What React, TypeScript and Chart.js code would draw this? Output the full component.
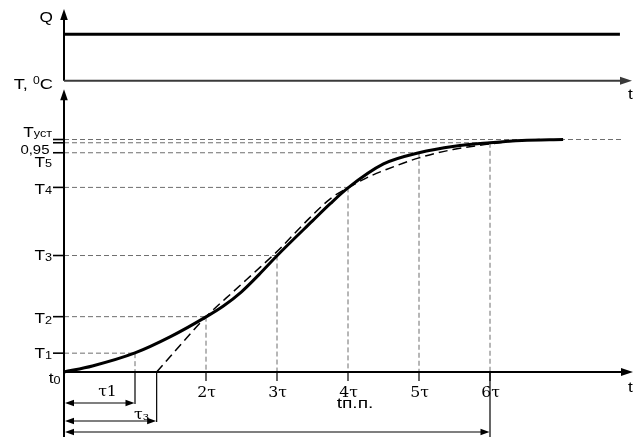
import React, { useEffect, useRef } from 'react';
import { Chart, registerables } from 'chart.js';

Chart.register(...registerables);

// ---------------- data ----------------
// time in units of τ, temperature normalised so that Tуст = 1
const solidT = [0, 0.4, 1.0, 1.5, 2.0, 2.25, 2.5, 2.75, 3.0, 3.5, 3.75, 4.0, 4.5, 5.0, 5.5, 6.0, 6.45, 7.03];
const solidV = [0, 0.026, 0.082, 0.152, 0.237, 0.285, 0.345, 0.42, 0.5, 0.65, 0.724, 0.792, 0.895, 0.943, 0.971, 0.986, 0.996, 1.0];

const approxT = [1.305, 2.0, 2.4, 2.76, 3.04, 3.37, 3.75, 4.0, 4.31, 4.54, 5.0, 5.48, 6.0, 6.42, 6.7];
const approxV = [0, 0.237, 0.35, 0.45, 0.53, 0.635, 0.745, 0.792, 0.842, 0.871, 0.921, 0.957, 0.981, 0.996, 1.0];

const qT = [0, 7.83];
const qV = [1, 1];

const levelMain = ['T', 'T', 'T', 'T', 'T', '0,95', 'T'];
const levelSub = ['1', '2', '3', '4', '5', '', 'уст'];
const levelValues = [0.081, 0.238, 0.501, 0.794, 0.943, 0.986, 1.0];
const levelReach = [1, 2, 3, 4, 5, 6, 7.87];

const tickTaus = [2, 3, 4, 5, 6];
const tickLabels = ['2τ', '3τ', '4τ', '5τ', '6τ'];

const spanEnds = [1, 1.305, 6];
const spanMain = ['τ1', 'τ', 'tп.п.'];
const spanSub = ['', 'з', ''];

// ---------------- layout (pixels) ----------------
const AREA_TOP = 10;
const AREA_BOTTOM = 437;
const T_AXIS_PX = 372;
const T_UNIT_PX = 232.5;
const Q_AXIS_PX = 80.7;
const Q_UNIT_PX = 46.4;

const levelLabelDy = [5, 6.5, 4.5, 6.3, 14, 11, -2.6];
const levelLabelRight = [52, 52, 52, 52, 52, 49.5, 52];
const levelLabelSize = [15, 15, 15, 15, 15, 13, 15];
const spanDy = [31, 49, 60];
const spanLabelX = [0.613, 0.985, 3.84];
const spanLabelBase = [396, 418.5, 408];

const SANS = '"Liberation Sans", Arial, sans-serif';
const SERIF = '"DejaVu Serif", serif';
const SX = 1.15;

type Part = { s: string; size: number; family: string; dy?: number };

function drawParts(ctx: CanvasRenderingContext2D, parts: Part[], x: number, y: number, align: 'left' | 'right' | 'center', sx = SX) {
  const widths = parts.map((p) => {
    ctx.font = `${p.size}px ${p.family}`;
    return ctx.measureText(p.s).width;
  });
  const total = widths.reduce((a, b) => a + b, 0) * sx;
  let cx = align === 'left' ? x : align === 'right' ? x - total : x - total / 2;
  ctx.textAlign = 'left';
  ctx.textBaseline = 'alphabetic';
  parts.forEach((p, i) => {
    ctx.save();
    ctx.translate(cx, y + (p.dy || 0));
    ctx.scale(sx, 1);
    ctx.font = `${p.size}px ${p.family}`;
    ctx.fillText(p.s, 0, 0);
    ctx.restore();
    cx += widths[i] * sx;
  });
}

function arrowHead(ctx: CanvasRenderingContext2D, tx: number, ty: number, dx: number, dy: number, len: number, hw: number) {
  const bx = tx - dx * len;
  const by = ty - dy * len;
  const px = -dy;
  const py = dx;
  ctx.beginPath();
  ctx.moveTo(tx, ty);
  ctx.lineTo(bx + px * hw, by + py * hw);
  ctx.lineTo(bx - px * hw, by - py * hw);
  ctx.closePath();
  ctx.fill();
}

function line(ctx: CanvasRenderingContext2D, x1: number, y1: number, x2: number, y2: number) {
  ctx.beginPath();
  ctx.moveTo(x1, y1);
  ctx.lineTo(x2, y2);
  ctx.stroke();
}

const schematic = {
  id: 'schematic',
  beforeDatasetsDraw(chart: any) {
    const ctx: CanvasRenderingContext2D = chart.ctx;
    const xs = chart.scales.x;
    const ys = chart.scales.y;
    const x0 = xs.getPixelForValue(0);
    const y0 = ys.getPixelForValue(0);
    ctx.save();
    ctx.strokeStyle = '#6e6e6e';
    ctx.lineWidth = 1;
    ctx.setLineDash([5, 3]);
    levelValues.forEach((v, i) => {
      const y = ys.getPixelForValue(v);
      const xe = xs.getPixelForValue(levelReach[i]);
      line(ctx, x0, y, xe, y);
      if (levelReach[i] <= 6) line(ctx, xe, y, xe, y0);
    });
    ctx.restore();
  },
  afterDatasetsDraw(chart: any) {
    const ctx: CanvasRenderingContext2D = chart.ctx;
    const xs = chart.scales.x;
    const ys = chart.scales.y;
    const yq = chart.scales.yQ;
    const area = chart.chartArea;
    const x0 = xs.getPixelForValue(0);
    const y0 = ys.getPixelForValue(0);
    const q0 = yq.getPixelForValue(0);
    ctx.save();
    ctx.fillStyle = '#000';
    ctx.strokeStyle = '#000';
    ctx.setLineDash([]);

    // top panel axes
    ctx.lineWidth = 2;
    line(ctx, x0, q0, x0, area.top + 6);
    arrowHead(ctx, x0, area.top - 1, 0, -1, 11, 3.8);
    ctx.strokeStyle = '#3a3a3a';
    ctx.fillStyle = '#3a3a3a';
    line(ctx, x0, q0, area.right - 10, q0);
    arrowHead(ctx, area.right, q0, 1, 0, 12, 4);

    // bottom panel axes
    ctx.strokeStyle = '#000';
    ctx.fillStyle = '#000';
    line(ctx, x0, AREA_BOTTOM, x0, q0 + 14);
    arrowHead(ctx, x0, q0 + 8.5, 0, -1, 11, 3.8);
    line(ctx, x0, y0, area.right - 10, y0);
    arrowHead(ctx, area.right + 1, y0, 1, 0, 12, 4);

    // left level ticks
    ctx.lineWidth = 1.6;
    levelValues.forEach((v) => {
      const y = ys.getPixelForValue(v);
      line(ctx, x0 - 11, y, x0, y);
    });

    // level labels
    levelValues.forEach((v, i) => {
      const y = ys.getPixelForValue(v) + levelLabelDy[i];
      const parts: Part[] = [{ s: levelMain[i], size: levelLabelSize[i], family: SANS }];
      if (levelSub[i]) parts.push({ s: levelSub[i], size: 11, family: SANS, dy: 0.5 });
      drawParts(ctx, parts, levelLabelRight[i], y, 'right');
    });
    drawParts(ctx, [{ s: 't', size: 15, family: SANS }, { s: '0', size: 11, family: SANS, dy: 1 }], x0 - 3.5, y0 + 10.5, 'right');

    // panel labels
    drawParts(ctx, [{ s: 'Q', size: 15, family: SANS }], 53, 22, 'right');
    drawParts(ctx, [
      { s: 'T, ', size: 15, family: SANS },
      { s: '0', size: 10, family: SANS, dy: -5 },
      { s: 'C', size: 15, family: SANS },
    ], 53, 89, 'right', 1.22);
    drawParts(ctx, [{ s: 't', size: 15, family: SANS }], 628, 99, 'left');
    drawParts(ctx, [{ s: 't', size: 15, family: SANS }], 628, y0 + 19.5, 'left');

    // x ticks
    ctx.lineWidth = 1.2;
    tickTaus.forEach((t, i) => {
      const x = xs.getPixelForValue(t);
      line(ctx, x, y0, x, y0 + 9);
      drawParts(ctx, [{ s: tickLabels[i], size: 15, family: SERIF }], x + 0.5, y0 + 25, 'center', 1.05);
    });

    // dimension spans
    spanEnds.forEach((t, i) => {
      const x = xs.getPixelForValue(t);
      const y = y0 + spanDy[i];
      ctx.lineWidth = 1.2;
      line(ctx, x, y0, x, i === spanEnds.length - 1 ? AREA_BOTTOM : y + 1);
      line(ctx, x0 + 4, y, x - 4, y);
      arrowHead(ctx, x0 + 1, y, -1, 0, 9, 3.2);
      arrowHead(ctx, x - 0.5, y, 1, 0, 9, 3.2);
      const lx = xs.getPixelForValue(spanLabelX[i]);
      if (i === 2) {
        drawParts(ctx, [{ s: spanMain[i], size: 15, family: SANS }], lx, spanLabelBase[i], 'left', 1.28);
      } else if (spanSub[i]) {
        drawParts(ctx, [
          { s: spanMain[i], size: 15, family: SERIF },
          { s: spanSub[i], size: 11, family: SERIF, dy: 1 },
        ], lx, spanLabelBase[i], 'left', 1.05);
      } else {
        drawParts(ctx, [{ s: spanMain[i], size: 15, family: SERIF }], lx, spanLabelBase[i], 'center', 1.05);
      }
    });
    ctx.restore();
  },
};

export default function App() {
  const ref = useRef<HTMLCanvasElement>(null);
  useEffect(() => {
    const tMin = -(AREA_BOTTOM - T_AXIS_PX) / T_UNIT_PX;
    const tMax = (T_AXIS_PX - AREA_TOP) / T_UNIT_PX;
    const qMin = -(AREA_BOTTOM - Q_AXIS_PX) / Q_UNIT_PX;
    const qMax = (Q_AXIS_PX - AREA_TOP) / Q_UNIT_PX;
    const chart = new Chart(ref.current as HTMLCanvasElement, {
      type: 'scatter',
      data: {
        datasets: [
          {
            label: 'Q',
            data: qT.map((t, i) => ({ x: t, y: qV[i] })),
            yAxisID: 'yQ',
            showLine: true,
            borderColor: '#000',
            borderWidth: 3,
            pointRadius: 0,
            clip: false,
          } as any,
          {
            label: 'approx',
            data: approxT.map((t, i) => ({ x: t, y: approxV[i] })),
            yAxisID: 'y',
            showLine: true,
            borderColor: '#000',
            borderWidth: 1.5,
            borderDash: [9, 5],
            pointRadius: 0,
            cubicInterpolationMode: 'monotone',
            clip: false,
          } as any,
          {
            label: 'T',
            data: solidT.map((t, i) => ({ x: t, y: solidV[i] })),
            yAxisID: 'y',
            showLine: true,
            borderColor: '#000',
            borderWidth: 3,
            pointRadius: 0,
            cubicInterpolationMode: 'monotone',
            clip: false,
          } as any,
        ],
      },
      options: {
        responsive: false,
        devicePixelRatio: 1,
        animation: false,
        layout: { padding: { left: 64, right: 4, top: AREA_TOP, bottom: 0 } },
        plugins: { legend: { display: false }, tooltip: { enabled: false } },
        events: [],
        scales: {
          x: { type: 'linear', min: 0, max: 8, display: false },
          y: { type: 'linear', min: tMin, max: tMax, display: false },
          yQ: { type: 'linear', min: qMin, max: qMax, display: false },
        },
      },
      plugins: [schematic],
    });
    return () => chart.destroy();
  }, []);
  return (
    <div style={{ position: 'fixed', left: 0, top: 0, width: 636, height: 437, background: '#fff' }}>
      <canvas ref={ref} width={636} height={437} style={{ display: 'block' }} />
    </div>
  );
}
